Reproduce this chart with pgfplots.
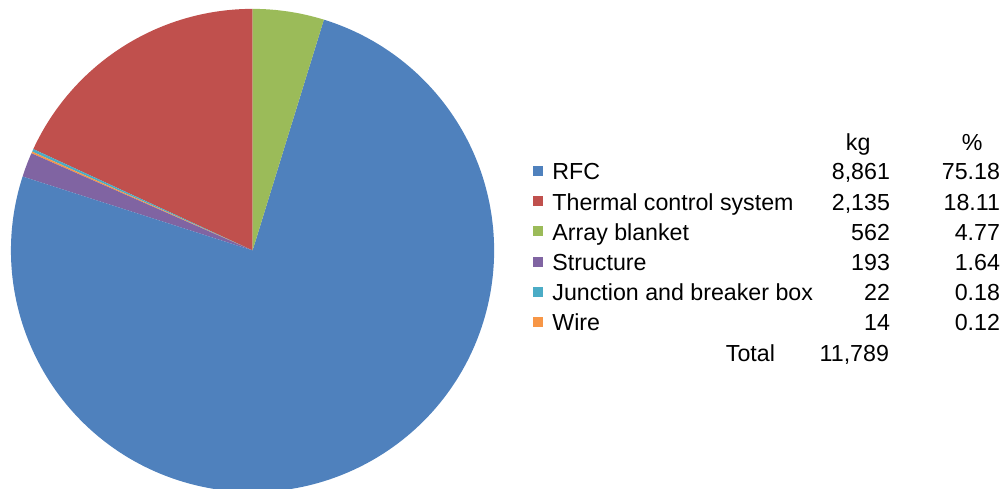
\documentclass[border=0pt]{standalone}
\usepackage{fontspec}
\setmainfont{Liberation Sans}
\usepackage{pgfplots}
\pgfplotsset{compat=1.18}

\definecolor{rfc}{HTML}{4F81BD}
\definecolor{tcs}{HTML}{C0504D}
\definecolor{arr}{HTML}{9BBB59}
\definecolor{str}{HTML}{8064A2}
\definecolor{jbb}{HTML}{4BACC6}
\definecolor{wir}{HTML}{F79646}

\begin{document}
\begin{tikzpicture}[x=0.025cm, y=0.025cm, every node/.style={font=\fontsize{16.5}{19}\selectfont, inner sep=0pt}]
\useasboundingbox (0,0) rectangle (1006,488);
\begin{axis}[
  at={(0,0)}, anchor=south west,
  scale only axis, width=25.15cm, height=12.2cm,
  xmin=0, xmax=1006, ymin=0, ymax=488,
  hide axis, clip=false,
]
% pie, counterclockwise from 12 o'clock (percent shares)
\pgfplotsextra{
  \def\cum{90}
  \foreach \p/\c in {18.11/tcs, 0.18/jbb, 0.12/wir, 1.64/str, 75.18/rfc, 4.77/arr} {
    \pgfmathsetmacro\e{\cum+3.6*\p}
    \fill[\c] (axis cs:252.5,237.5) -- ++(\cum:6.0375cm)
      arc[start angle=\cum, end angle=\e, radius=6.0375cm] -- cycle;
    \global\let\cum\e
  }
}
% table legend
\pgfplotsextra{
  \node[anchor=base] at (axis cs:858,337) {kg};
  \node[anchor=base] at (axis cs:972,337) {\%};
  \foreach \i/\c/\n/\kg/\pc in {0/rfc/RFC/8{,}861/75.18,
      1/tcs/Thermal control system/2{,}135/18.11,
      2/arr/Array blanket/562/4.77,
      3/str/Structure/193/1.64,
      4/jbb/Junction and breaker box/22/0.18,
      5/wir/Wire/14/0.12} {
    \pgfmathsetmacro\b{308-30.2*\i}
    \fill[\c] (axis cs:533,\b+4) rectangle (axis cs:543,\b+14);
    \node[anchor=base west] at (axis cs:552,\b) {\n};
    \node[anchor=base east] at (axis cs:890,\b) {\kg};
    \node[anchor=base east] at (axis cs:1000,\b) {\pc};
  }
  \node[anchor=base east] at (axis cs:775,126.8) {Total};
  \node[anchor=base east] at (axis cs:889,126.8) {11,789};
}
\end{axis}
\end{tikzpicture}
\end{document}
